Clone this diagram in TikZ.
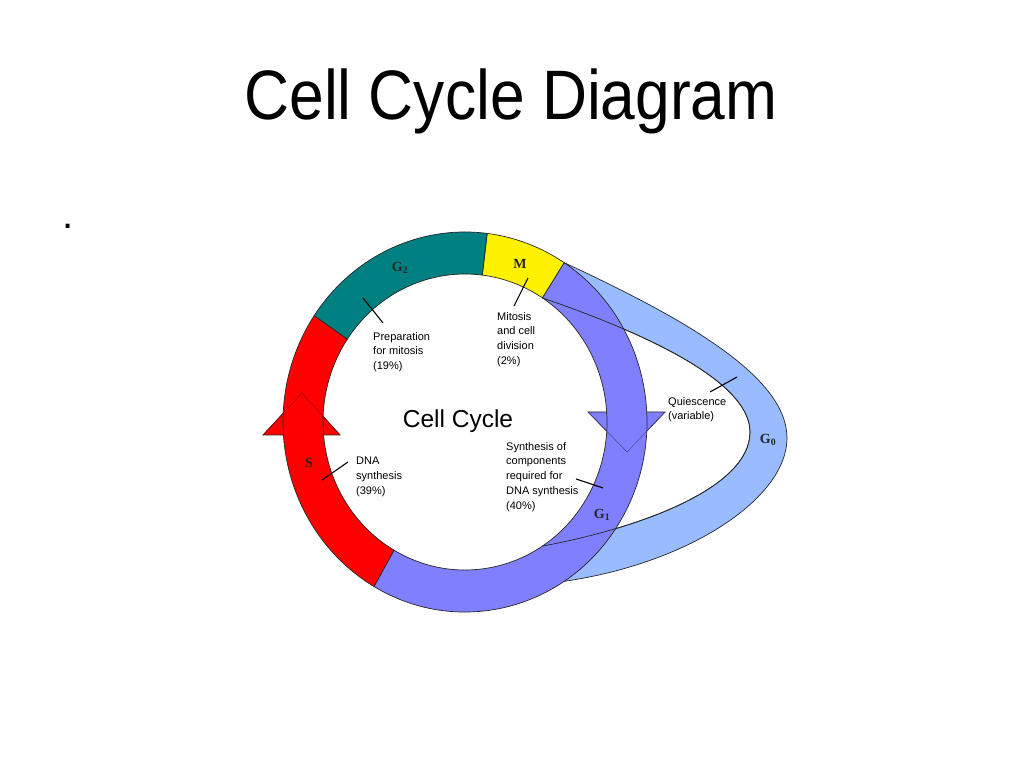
\documentclass[tikz,border=0pt]{standalone}
\usepackage{fontspec}
\setmainfont{Liberation Sans}
\newfontfamily\phasefont{Liberation Serif}
\usetikzlibrary{calc}
\definecolor{gtwo}{RGB}{0,128,128}
\definecolor{gone}{RGB}{128,128,255}
\definecolor{gzero}{RGB}{153,187,255}

\begin{document}
\begin{tikzpicture}[x=1pt,y=1pt,
    ring/.style={draw=black!85,line width=0.7pt},
    lead/.style={line width=1.1pt},
    note/.style={anchor=north west,inner sep=0pt,align=left,
      font=\fontsize{11}{14.8}\selectfont},
    phase/.style={font=\phasefont\bfseries\fontsize{14}{14}\selectfont,
      text=black!85,inner sep=0pt}]
  \useasboundingbox (0,0) rectangle (1024,768);
  \node[anchor=base,xscale=0.89,font=\fontsize{70}{70}\selectfont] (title)
    at (511,648) {Cell Cycle Diagram};
  \node[font=\fontsize{40}{40}\selectfont,inner sep=0pt] (dot) at (68,542) {.};

  \coordinate (c) at (465,346);
  % ends of the G0 loop on the ring
  \coordinate (mo) at ($(c)+(57:182 and 190)$);
  \coordinate (mi) at ($(c)+(57:142 and 148)$);
  \coordinate (go) at ($(c)+(-57:182 and 190)$);
  \coordinate (gi) at ($(c)+(-57:142 and 148)$);
  \coordinate (ro) at (787,330); \coordinate (ri) at (750,336);
  % arrow heads
  \coordinate (sl) at (263,333); \coordinate (sr) at (340,333);
  \coordinate (sa) at (302,375);
  \coordinate (gl) at (588,356); \coordinate (gr) at (665,356);
  \coordinate (ga) at (627,316);

  \draw[ring,fill=red] (sl) -- (sa) -- (sr) -- cycle;
  \draw[ring,fill=gone] (gl) -- (ga) -- (gr) -- cycle;
  \draw[ring,fill=gzero] (mo) .. controls (690,447) and (787,390) .. (ro)
    .. controls (787,270) and (690,205) .. (go) -- (gi)
    .. controls (640,240) and (750,280) .. (ri)
    .. controls (750,390) and (630,440) .. (mi) -- cycle;
  \foreach \a/\b/\col in {-120/57/gone,57/83/yellow,83/146/gtwo,146/240/red} {
    \draw[ring,fill=\col] ($(c)+(\a:182 and 190)$)
      arc[start angle=\a,end angle=\b,x radius=182,y radius=190]
      -- ($(c)+(\b:142 and 148)$)
      arc[start angle=\b,end angle=\a,x radius=142,y radius=148] -- cycle; }
  \draw[ring] (gi) .. controls (640,240) and (750,280) .. (ri)
    .. controls (750,390) and (630,440) .. (mi);
  \draw[red!60!black,line width=0.5pt] (sl) -- (sa) -- (sr);
  \draw[gone!55!black,line width=0.5pt] (gl) -- (ga) -- (gr);

  \node[phase] (gtwolab) at (400,500) {G\textsubscript{2}};
  \node[phase] (mlab) at (520,504) {M};
  \node[phase] (slab) at (309,305) {S};
  \node[phase] (gonelab) at (602,253) {G\textsubscript{1}};
  \node[phase] (gzerolab) at (768,328) {G\textsubscript{0}};

  \node[anchor=base,font=\fontsize{24.5}{24.5}\selectfont] (cycle)
    at (458,340) {Cell Cycle};
  \node[note] (prep) at (373,436) {Preparation\\for mitosis\\(19\%)};
  \node[note] (mit) at (497,456) {Mitosis\\and cell\\division\\(2\%)};
  \node[note] (qui) at (668,371) {Quiescence\\(variable)};
  \node[note] (dna) at (356,311) {DNA\\synthesis\\(39\%)};
  \node[note] (syn) at (506,326)
    {Synthesis of\\components\\required for\\DNA synthesis\\(40\%)};

  \coordinate (prep-a) at (363,470); \coordinate (prep-b) at (383,445);
  \coordinate (mit-a) at (528,490); \coordinate (mit-b) at (514,462);
  \coordinate (qui-a) at (710,376); \coordinate (qui-b) at (737,391);
  \coordinate (dna-a) at (322,288); \coordinate (dna-b) at (348,306);
  \coordinate (syn-a) at (576,289); \coordinate (syn-b) at (603,280);
  \foreach \a in {prep,mit,qui,dna,syn} {
    \draw[lead] (\a-a) -- (\a-b); }
\end{tikzpicture}
\end{document}
